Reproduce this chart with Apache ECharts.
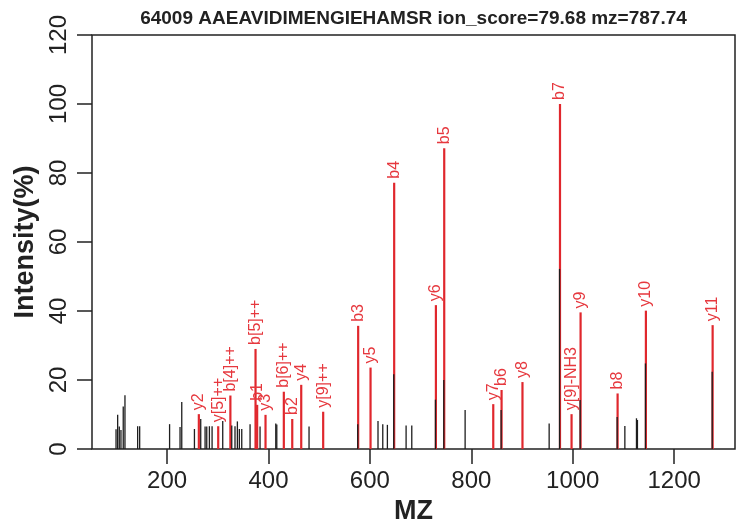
<!DOCTYPE html>
<html><head><meta charset="utf-8">
<script src="https://cdn.jsdelivr.net/npm/echarts@6/dist/echarts.min.js"></script>
<style>html,body{margin:0;padding:0;background:#fff}#c{width:736px;height:529px}</style>
</head><body><div id="c"></div>
<script>
const titleText = '64009 AAEAVIDIMENGIEHAMSR ion_score=79.68 mz=787.74';
const xTicks = [200, 400, 600, 800, 1000, 1200];
const yTicks = [0, 20, 40, 60, 80, 100, 120];

// unannotated (black) peaks
const blackMz  = [99.4, 102.6, 105.8, 109.1, 113.6, 117.0, 142.0, 146.0, 205.0, 225.6, 229.0, 254.0, 266.4,
                  275.0, 278.3, 283.5, 288.8, 309.8, 327.6, 334.0, 338.7, 342.6, 347.3, 363.7, 383.4,
                  414.4, 416.4, 480.0, 576.0, 616.0, 625.4, 634.5, 647.0, 671.4, 682.6, 729.3, 745.7,
                  787.8, 858.8, 953.5, 974.0, 1014.6, 1087.6, 1102.8, 1125.7, 1127.6, 1143.4, 1275.0];
const blackInt = [5.7, 9.9, 6.5, 5.5, 12.3, 15.6, 6.6, 6.6, 7.2, 6.4, 13.6, 5.8, 8.7,
                  6.5, 6.5, 6.6, 6.6, 8.1, 6.8, 6.6, 8.0, 5.8, 5.8, 7.2, 6.5,
                  7.4, 7.1, 6.5, 7.2, 8.1, 7.2, 7.0, 21.7, 6.8, 6.8, 14.3, 20.0,
                  11.3, 11.3, 7.4, 52.2, 14.2, 9.3, 6.7, 8.9, 8.4, 24.8, 22.4];

// annotated (red) fragment ions
const ionLabels = ['y2', 'y[5]++', 'b[4]++', 'b[5]++', 'b1', 'y3', 'b[6]++', 'b2', 'y4', 'y[9]++',
                   'b3', 'y5', 'b4', 'y6', 'b5', 'y7', 'b6', 'y8', 'b7', 'y[9]-NH3', 'y9', 'b8', 'y10', 'y11'];
const ionMz  = [261.8, 300.0, 324.0, 373.6, 376.8, 393.3, 429.4, 446.0, 463.7, 507.0,
                576.0, 600.4, 647.0, 729.3, 745.7, 842.4, 858.8, 900.0, 974.0, 996.8, 1014.6, 1087.6, 1143.4, 1275.0];
const ionInt = [10.1, 6.6, 15.5, 29.0, 12.8, 9.9, 16.6, 8.7, 18.6, 10.8,
                35.7, 23.6, 77.2, 41.7, 87.2, 13.0, 17.1, 19.4, 100.0, 10.1, 39.6, 16.1, 40.1, 35.9];

const RED = '#e0272d';
const INK = '#222222';
const FONT = '"Liberation Sans", Arial, Helvetica, sans-serif';

const redData = ionMz.map((m, i) => ({ name: ionLabels[i], value: [m, ionInt[i]] }));
const blackData = blackMz.map((m, i) => [m, blackInt[i]]);

const chart = echarts.init(document.getElementById('c'), null, { renderer: 'canvas' });
chart.setOption({
  animation: false,
  backgroundColor: '#ffffff',
  textStyle: { fontFamily: FONT },
  title: {
    text: titleText, left: 413.5, textAlign: 'center', top: 9, padding: 0,
    textStyle: { fontFamily: FONT, fontSize: 19, fontWeight: 'bold', color: INK }
  },
  grid: {
    left: 92, right: 1, top: 35, bottom: 80, show: true,
    borderColor: INK, borderWidth: 1.5, backgroundColor: 'transparent',
    outerBoundsMode: 'none'
  },
  xAxis: {
    type: 'value', min: 52, max: 1320,
    axisLine: { show: false },
    splitLine: { show: false },
    axisTick: { show: true, length: 15, customValues: xTicks, lineStyle: { color: INK, width: 1.5 } },
    axisLabel: { customValues: xTicks, fontSize: 24, color: INK, margin: 20, fontFamily: FONT,
                 formatter: v => String(v) },
    name: 'MZ', nameLocation: 'middle', nameGap: 47,
    nameTextStyle: { fontSize: 27, fontWeight: 'bold', color: INK, fontFamily: FONT }
  },
  yAxis: {
    type: 'value', min: 0, max: 120, interval: 20,
    axisLine: { show: false },
    splitLine: { show: false },
    axisTick: { show: true, length: 15, lineStyle: { color: INK, width: 1.5 } },
    axisLabel: { rotate: 90, fontSize: 24, color: INK, margin: 21, fontFamily: FONT,
                 customValues: yTicks, formatter: v => String(v) },
    name: 'Intensity(%)', nameLocation: 'middle', nameGap: 47, nameRotate: 90,
    nameTextStyle: { fontSize: 27, fontWeight: 'bold', color: INK, fontFamily: FONT }
  },
  series: [
    {
      type: 'bar', name: 'ions', data: redData, barWidth: 2.2, barGap: '-100%', z: 2,
      itemStyle: { color: RED },
      label: {
        show: true, position: 'top', distance: 4, rotate: 90, align: 'left', verticalAlign: 'middle',
        formatter: '{b}', fontSize: 16, color: '#e6383e', fontFamily: FONT
      }
    },
    {
      type: 'bar', name: 'peaks', data: blackData, barWidth: 1.3, barGap: '-100%', z: 3,
      itemStyle: { color: '#1e1e1e' }
    }
  ]
});
</script>
</body></html>
